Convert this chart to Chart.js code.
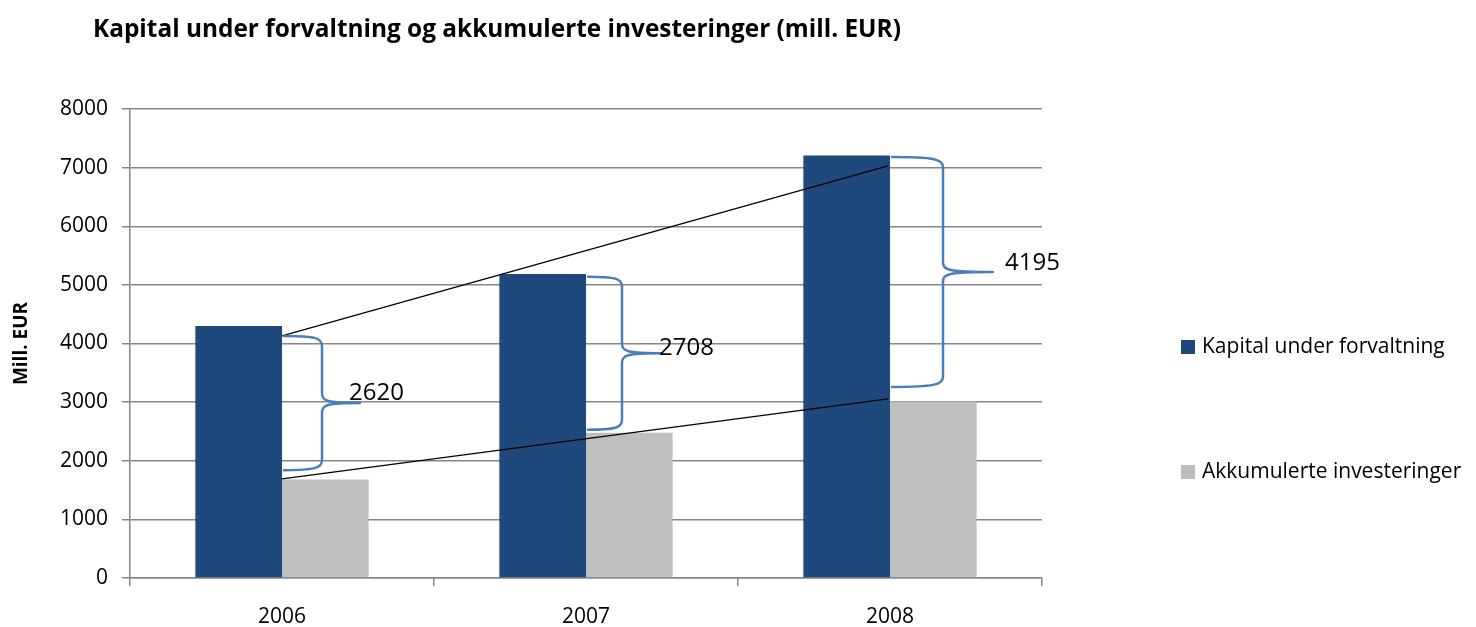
<!DOCTYPE html>
<html lang="no">
<head>
<meta charset="UTF-8">
<title>Kapital under forvaltning og akkumulerte investeringer</title>
<script src="https://cdn.jsdelivr.net/npm/chart.js"></script>
<style>
  html, body { margin: 0; padding: 0; background: #fff; }
  canvas { display: block; }
</style>
</head>
<body>
<canvas id="chart" width="1476" height="627"></canvas>
<script>
// data
const years = ['2006', '2007', '2008'];
const kapital = [4300, 5185, 7205];
const akkumulert = [1680, 2477, 3010];
const yMax = 8000;
const yStep = 1000;

// annotations: gap labels, braces (value ranges) and the two connecting lines
const gapLabels = ['2620', '2708', '4195'];
const braceTop = [4130, 5140, 7180];
const braceBottom = [1840, 2530, 3260];
const trendTop = [4130, 7030];
const trendBottom = [1690, 3055];

const FONT = '"Open Sans", Lato, sans-serif';
const DARK = '#1F497D';
const GRAY = '#BFBFBF';
const BRACE = '#4A7EBB';
const GRID = '#868686';

// brace look per year: [vertical offset, tip offset, label dx, label dy]
const braceStyle = [
  [38, 76, -11, -10],
  [34, 74, -3, -5],
  [51, 101, 12, -9]
];

const extras = {
  id: 'extras',
  afterDatasetsDraw(chart) {
    const ctx = chart.ctx;
    const y = chart.scales.y;
    const bars = chart.getDatasetMeta(0).data;
    const rightEdge = i => bars[i].x + bars[i].width / 2;

    ctx.save();
    // connecting lines
    ctx.strokeStyle = '#000';
    ctx.lineWidth = 1.3;
    [trendTop, trendBottom].forEach(t => {
      ctx.beginPath();
      ctx.moveTo(rightEdge(0), y.getPixelForValue(t[0]));
      ctx.lineTo(rightEdge(2) - 2, y.getPixelForValue(t[1]));
      ctx.stroke();
    });

    // braces
    ctx.strokeStyle = BRACE;
    ctx.lineWidth = 2.5;
    ctx.lineCap = 'round';
    years.forEach((yr, i) => {
      const [w1, w2, dx, dy] = braceStyle[i];
      const x0 = rightEdge(i) + 2;
      const yt = y.getPixelForValue(braceTop[i]);
      const yb = y.getPixelForValue(braceBottom[i]);
      const ym = (yt + yb) / 2;
      const r = 10;
      ctx.beginPath();
      ctx.moveTo(x0, yt);
      ctx.bezierCurveTo(x0 + w1 * 0.8, yt, x0 + w1, yt + 2, x0 + w1, yt + r);
      ctx.lineTo(x0 + w1, ym - r);
      ctx.bezierCurveTo(x0 + w1, ym - 2, x0 + w1 + 4, ym, x0 + w2, ym);
      ctx.moveTo(x0 + w2, ym);
      ctx.bezierCurveTo(x0 + w1 + 4, ym, x0 + w1, ym + 2, x0 + w1, ym + r);
      ctx.lineTo(x0 + w1, yb - r);
      ctx.bezierCurveTo(x0 + w1, yb - 2, x0 + w1 * 0.8, yb, x0, yb);
      ctx.stroke();

      ctx.fillStyle = '#000';
      ctx.font = '24px ' + FONT;
      ctx.textAlign = 'left';
      ctx.textBaseline = 'middle';
      ctx.fillText(gapLabels[i], x0 + w2 + dx, ym + dy);
    });

    // title
    ctx.fillStyle = '#000';
    ctx.font = 'bold 24.4px ' + FONT;
    ctx.textAlign = 'left';
    ctx.textBaseline = 'middle';
    ctx.fillText('Kapital under forvaltning og akkumulerte investeringer (mill. EUR)', 93, 30);

    // legend
    const legend = [['Kapital under forvaltning', DARK, 347], ['Akkumulerte investeringer', GRAY, 472]];
    ctx.font = '21px ' + FONT;
    legend.forEach(([txt, col, ly]) => {
      ctx.fillStyle = col;
      ctx.fillRect(1181, ly - 7, 14, 14);
      ctx.fillStyle = '#000';
      ctx.fillText(txt, 1202, ly);
    });
    ctx.restore();
  }
};

new Chart(document.getElementById('chart'), {
  type: 'bar',
  data: {
    labels: years,
    datasets: [
      { label: 'Kapital under forvaltning', data: kapital, backgroundColor: DARK },
      { label: 'Akkumulerte investeringer', data: akkumulert, backgroundColor: GRAY }
    ]
  },
  options: {
    responsive: false,
    animation: false,
    layout: { padding: { top: 109, right: 434, left: 0, bottom: 0 } },
    datasets: { bar: { categoryPercentage: 0.57, barPercentage: 1.0 } },
    plugins: { legend: { display: false }, tooltip: { enabled: false } },
    scales: {
      x: {
        afterFit(s) { s.height = 49; },
        grid: { display: true, drawOnChartArea: false, offset: true, tickLength: 8, color: GRID, lineWidth: 1.5 },
        border: { color: GRID, width: 1.5 },
        ticks: { color: '#000', font: { family: FONT, size: 21 }, padding: 18 }
      },
      y: {
        min: 0,
        max: yMax,
        afterFit(s) { s.width = 130; },
        grid: { color: GRID, lineWidth: 1.5, tickLength: 8 },
        border: { color: GRID, width: 1.5 },
        ticks: { stepSize: yStep, color: '#000', font: { family: FONT, size: 21 }, padding: 14, callback: v => String(v) },
        title: { display: true, text: 'Mill. EUR', color: '#000', font: { family: FONT, size: 19, weight: 'bold' }, padding: { top: 10, bottom: 0 } }
      }
    }
  },
  plugins: [extras]
});
</script>
</body>
</html>
